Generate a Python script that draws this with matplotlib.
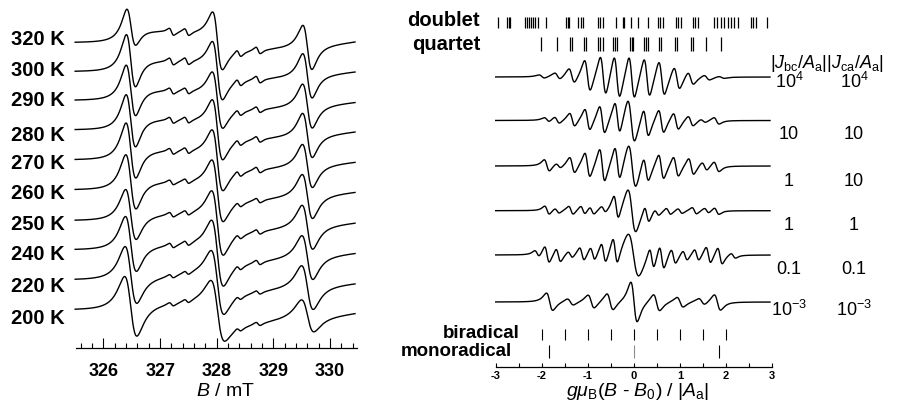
import numpy as np
import matplotlib
matplotlib.use('Agg')
import matplotlib.pyplot as plt
from matplotlib.ticker import MultipleLocator

plt.rcParams['font.family'] = 'Liberation Sans'
plt.rcParams['mathtext.fontset'] = 'custom'
plt.rcParams['mathtext.rm'] = 'Liberation Sans'
plt.rcParams['mathtext.it'] = 'Liberation Sans:italic'
plt.rcParams['mathtext.bf'] = 'Liberation Sans:bold'
plt.rcParams['axes.unicode_minus'] = False

W, H = 897, 405

# ---------------- measured spectra (left) ----------------
temps = [320, 300, 290, 280, 270, 260, 250, 240, 220, 200]
line_pos = [326.48, 328.01, 329.60]        # nitrogen triplet, mT
mid_pos = [327.20, 327.47, 328.39, 328.73]  # weak lines in between
gam = [0.14, 0.145, 0.15, 0.15, 0.155, 0.16, 0.165, 0.17, 0.18, 0.19]
mid_amp = [3.5, 3.5, 3.0, 3.0, 3.0, 2.5, 2.5, 2.5, 2.0, 2.0]

# heights (px) relative to the low-field baseline of each trace
pk1 = [32.7, 36.7, 35.0, 35.0, 36.7, 35.0, 31.0, 33.3, 33.3, 33.3]
tr1 = [-2.3, -15.0, -15.0, -16.7, -18.0, -19.0, -19.0, -21.7, -24.0, -26.7]
post1 = [12.7, 11.7, 11.7, 12.0, 10.0, 8.0, 5.0, 3.0, 0.0, 4.0]
pre2 = [7.7, 8.3, 6.7, 7.0, 7.0, 7.0, 7.0, 6.0, 8.0, 8.3]
pk2 = [30.4, 30.0, 28.3, 30.0, 30.0, 30.0, 30.0, 30.0, 30.0, 30.0]
tr2 = [-27.3, -28.3, -28.0, -30.0, -31.0, -32.0, -35.0, -36.7, -35.0, -31.7]
post2 = [-10.6, -10.0, -11.7, -12.0, -13.0, -14.0, -15.0, -16.7, -16.7, -20.0]
pre3 = [-4.0, -5.0, -6.0, -6.0, -6.0, -6.0, -6.0, -6.7, -6.7, -6.7]
pk3 = [17.7, 18.3, 16.7, 17.0, 16.0, 16.0, 16.0, 15.0, 15.0, 11.0]
tr3 = [-27.3, -26.7, -28.0, -28.0, -28.0, -29.0, -29.0, -30.0, -30.0, -22.7]
post3 = [-5.0, -5.0, -6.7, -7.0, -7.0, -7.0, -7.0, -8.0, -8.0, -10.0]
end_lvl = [1.0, 0.0, -1.7, -1.7, -2.0, -2.0, -2.0, -3.0, -3.3, -3.3]

# ---------------- simulated spectra (right) ----------------
r_tags = [(r'$\mathregular{10^4}$', r'$\mathregular{10^4}$'), ('10', '10'), ('1', '10'),
          ('1', '1'), ('0.1', '0.1'), (r'$\mathregular{10^{-3}}$', r'$\mathregular{10^{-3}}$')]

r1_pos = [-2.0, -1.66, -1.35, -1.01, -0.67, -0.37, -0.05, 0.28, 0.60, 0.93, 1.23, 1.58, 1.90]
r1_amp = [1.7, 3.3, 7.5, 16.0, 20.0, 21.7, 21.7, 19.7, 17.5, 11.3, 6.3, 2.5, 1.0]
r1_wid = [0.11] * 13

r2_pos = [-1.89, -1.67, -1.34, -1.01, -0.69, -0.36, -0.06, 0.26, 0.59, 0.91, 1.23, 1.50, 1.79]
r2_amp = [2.2, 3.3, 6.7, 10.8, 14.0, 16.0, 21.7, 14.0, 11.7, 8.3, 5.0, 1.7, 3.3]
r2_wid = [0.10] * 6 + [0.13] + [0.10] * 6

r3_pos = [-1.89, -1.64, -1.34, -1.01, -0.69, -0.36, -0.04, 0.26, 0.59, 0.91, 1.24, 1.53, 1.79]
r3_amp = [5.8, 2.5, 8.0, 12.5, 16.7, 16.7, 22.0, 12.5, 12.5, 10.0, 8.3, 4.2, 5.0]
r3_wid = [0.10] * 6 + [0.14] + [0.10] * 6

r4_pos = [-1.887, -1.670, -1.367, -1.108, -0.913, -0.660, -0.386, -0.047, 0.278, 0.494,
          0.747, 0.999, 1.31, 1.576, 1.793]
r4_amp = [4.2, 2.5, 4.2, 4.2, 3.8, 3.3, 12.0, 21.7, 8.3, 3.3, 3.3, 2.5, 3.3, 2.5, 3.3]
r4_wid = [0.09] * 7 + [0.15] + [0.09] * 7

r5_pos = [-2.103, -1.887, -1.641, -1.382, -1.129, -0.898, -0.660, -0.408, -0.011, 0.386,
          0.602, 0.855, 1.108, 1.360, 1.613, 1.865, 2.154]
r5_amp = [3.3, 8.3, 6.7, 3.3, 6.7, 6.7, 10.0, 13.3, 21.7, 10.8, 11.7, 7.5, 5.0, 5.8, 8.3, 8.3, 2.5]
r5_wid = [0.09] * 8 + [0.20] + [0.09] * 8

r6_pos = [-1.83, -1.38, -0.93, -0.52, 0.0, 0.49, 1.0, 1.47, 1.81]
r6_amp = [8.7, 3.3, 6.7, 8.3, 20.0, 8.3, 5.0, 3.3, 7.8]
r6_wid = [0.12] * 9

doublet = [-2.95, -2.75, -2.72, -2.68, -2.37, -2.33, -2.28, -2.24, -2.20, -2.15, -2.08, -1.90,
           -1.47, -1.43, -1.40, -1.22, -1.16, -1.11, -0.78, -0.73, -0.68, -0.39, -0.24, -0.21,
           -0.06, 0.08, 0.30, 0.52, 0.57, 0.62, 0.91, 0.95, 1.02, 1.27, 1.32, 1.38, 1.74, 1.81,
           1.89, 1.96, 2.03, 2.10, 2.17, 2.25, 2.54, 2.59, 2.64, 2.88]
quartet = [-2.01, -1.68, -1.396, -1.346, -1.086, -1.035, -0.783, -0.732, -0.682, -0.458, -0.408,
           -0.365, -0.097, -0.054, -0.011, 0.227, 0.271, 0.314, 0.552, 0.595, 0.891, 0.934,
           1.237, 1.288, 1.562, 1.887]
biradical = [-2.0, -1.5, -1.0, -0.5, 0.0, 0.5, 1.0, 1.5, 2.0]
monoradical = [-1.85, 0.0, 1.85]


def dlor(x, c, g):
    # first-derivative Lorentzian scaled to unit peak height
    t = (x - c) / g
    return -16 * np.sqrt(3) / 9 * t / (1 + t * t) ** 2


def lor(x, c, g):
    t = (x - c) / g
    return 1 / (1 + t * t)


def edge(x, c, w):
    return 0.5 * (1 + np.tanh((x - c) / w))


def box(x0, y0, x1, y1):
    return [x0 / W, 1 - y1 / H, (x1 - x0) / W, (y1 - y0) / H]


def ftext(x, y, s, **kw):
    fig.text(x / W, 1 - y / H, s, **kw)


fig = plt.figure(figsize=(W / 100, H / 100), dpi=100)

# ---- left panel ----
left_base = [42.7, 71.7, 100.5, 130, 160, 190, 220.7, 250, 280, 310]
left_lab_y = [38.3, 70, 100, 134, 162.5, 192.5, 223, 254, 286, 317.5]

axl = fig.add_axes(box(76.3, 0, 356.7, 348))
axl.set_xlim(325.52, 330.47)
axl.set_ylim(348, 0)
xb = np.linspace(325.50, 330.44, 1600)
c1, c2, c3 = line_pos
for i, T in enumerate(temps):
    g = gam[i]
    w = 0.45 * g
    y = ((edge(xb, c1, w) - edge(xb, c2, w)) * (post1[i] + (pre2[i] - post1[i]) * (xb - c1) / (c2 - c1))
         + (edge(xb, c2, w) - edge(xb, c3, w)) * (post2[i] + (pre3[i] - post2[i]) * (xb - c2) / (c3 - c2))
         + edge(xb, c3, w) * (post3[i] + (end_lvl[i] - post3[i]) * (xb - c3) / (xb[-1] - c3)))
    lines = [(c1, 0.0, pk1[i], tr1[i], post1[i]),
             (c2, pre2[i], pk2[i], tr2[i], post2[i]),
             (c3, pre3[i], pk3[i], tr3[i], post3[i])]
    for c, pre, pk, tr, post in lines:
        A = (pk - tr) / 2 + 0.43 * (post - pre)
        B = ((pk + tr) / 2 - (pre + post) / 2) / 0.75
        y = y + A * dlor(xb, c, g) + B * lor(xb, c, g)
    for m in mid_pos:
        y = y + mid_amp[i] * dlor(xb, m, 0.07)
    axl.plot(xb, left_base[i] - y, color='black', lw=1.0, clip_on=False)
    ftext(65, left_lab_y[i] + 6.5, f'{T} K', ha='right', va='baseline',
          fontsize=14.5, fontweight='bold')

for s in ['top', 'left', 'right']:
    axl.spines[s].set_visible(False)
axl.spines['bottom'].set_linewidth(0.9)
axl.set_xticks([326, 327, 328, 329, 330])
axl.xaxis.set_minor_locator(MultipleLocator(0.2))
axl.tick_params(axis='x', which='major', direction='in', length=7, width=0.8, pad=11,
                labelsize=13)
axl.tick_params(axis='x', which='minor', direction='in', length=3.5, width=0.8)
axl.tick_params(axis='y', left=False, labelleft=False)
for t in axl.get_xticklabels():
    t.set_fontweight('bold')
ftext(225, 392, r'$B$ / mT', ha='center', va='center', fontsize=14)

# ---- right panel ----
r_base = [77, 120.5, 166, 210.7, 255, 302]
r_lab_y = [82, 132.5, 180, 224, 267.5, 310]
r_sets = [(r1_pos, r1_amp, r1_wid), (r2_pos, r2_amp, r2_wid), (r3_pos, r3_amp, r3_wid),
          (r4_pos, r4_amp, r4_wid), (r5_pos, r5_amp, r5_wid), (r6_pos, r6_amp, r6_wid)]

axr = fig.add_axes(box(495.7, 0, 772.3, 366.7))
axr.set_xlim(-3, 3)
axr.set_ylim(366.7, 0)
xr = np.linspace(-3.0, 2.95, 1600)
for j, (pos, amp, wid) in enumerate(r_sets):
    y = np.zeros_like(xr)
    for c, a, g in zip(pos, amp, wid):
        y += a * dlor(xr, c, g)
    axr.plot(xr, r_base[j] - y, color='black', lw=1.0, clip_on=False)
    ftext(789, r_lab_y[j] + 6.5, r_tags[j][0], ha='center', va='baseline', fontsize=13)
    ftext(854, r_lab_y[j] + 6.5, r_tags[j][1], ha='center', va='baseline', fontsize=13)

axr.vlines(doublet, 17, 28, color='black', lw=0.9)
axr.vlines(quartet, 37, 51, color='black', lw=0.9)
axr.vlines(biradical, 329, 340, color='black', lw=0.8)
axr.vlines(monoradical, 345, 358, color=['black', '0.55', 'black'], lw=0.8)

for s in ['top', 'left', 'right']:
    axr.spines[s].set_visible(False)
axr.spines['bottom'].set_linewidth(0.9)
axr.set_xticks([-3, -2, -1, 0, 1, 2, 3])
axr.xaxis.set_minor_locator(MultipleLocator(0.5))
axr.tick_params(axis='x', which='both', direction='in', length=3, width=0.8, pad=3,
                labelsize=8)
axr.tick_params(axis='y', left=False, labelleft=False)
for t in axr.get_xticklabels():
    t.set_fontweight('bold')

ftext(480, 21, 'doublet', ha='right', va='center', fontsize=14.5, fontweight='bold')
ftext(480, 45, 'quartet', ha='right', va='center', fontsize=14.5, fontweight='bold')
ftext(520, 334, 'biradical', ha='right', va='center', fontsize=13.5, fontweight='bold')
ftext(512, 352, 'monoradical', ha='right', va='center', fontsize=13.5, fontweight='bold')
ftext(770, 63, r'$|J_{\rm bc}/A_{\rm a}||J_{\rm ca}/A_{\rm a}|$', ha='left', va='center',
      fontsize=13)
ftext(638, 391, r'$g\mu_{\rm B}(B$ - $B_0)$ / $|A_{\rm a}|$', ha='center', va='center',
      fontsize=14)

fig.savefig('out.png', dpi=100)
